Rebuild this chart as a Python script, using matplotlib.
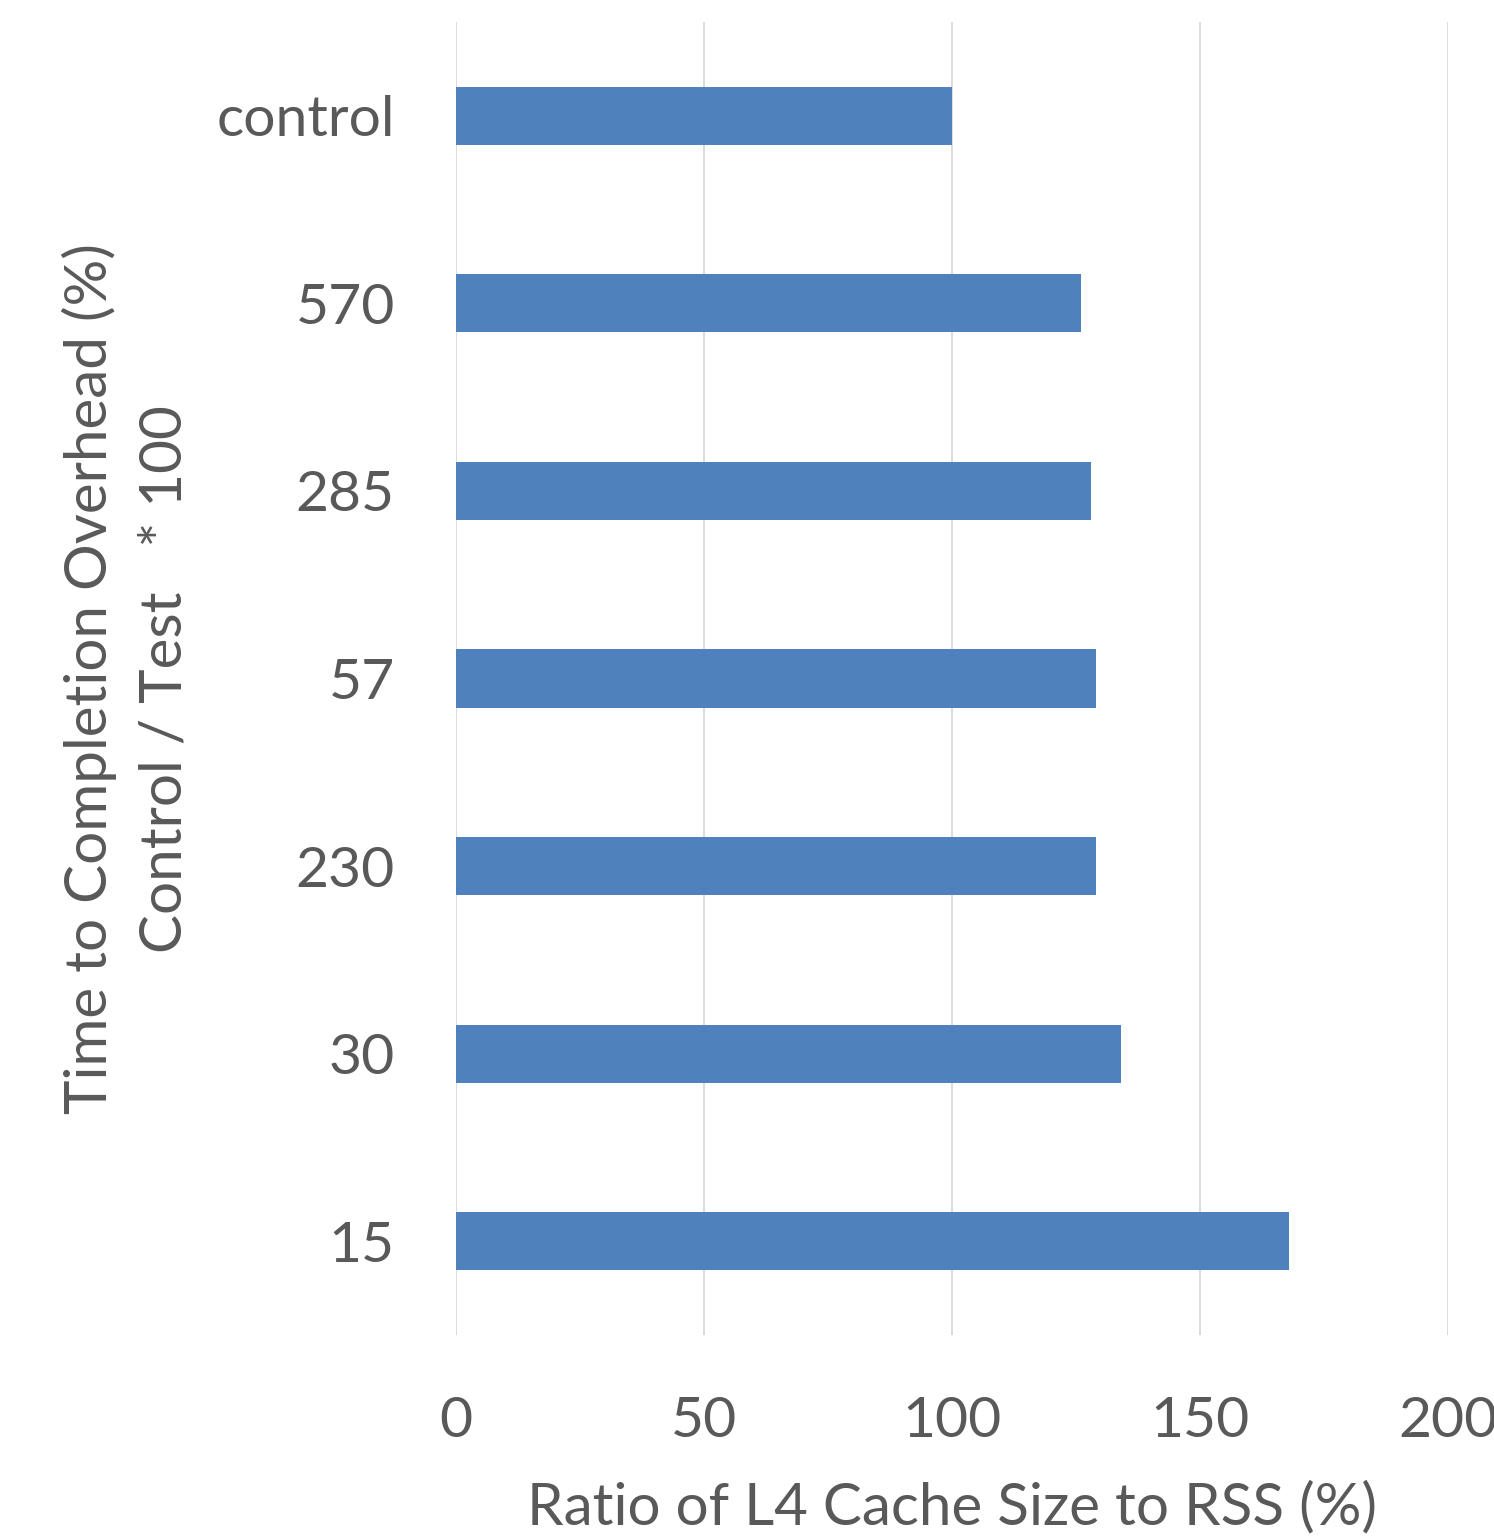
import matplotlib
matplotlib.use('Agg')
import matplotlib.pyplot as plt

# cache-size runs, listed top to bottom
labels = ['control', '570', '285', '57', '230', '30', '15']
overhead = [100, 126, 128, 129, 129, 134, 168]

grey = '#595959'
bar_color = '#4F81BD'

plt.rcParams['font.family'] = ['Lato', 'DejaVu Sans']

fig = plt.figure(figsize=(14.94, 15.37), dpi=100)
ax = fig.add_axes([0.3052, 0.1314, 0.664, 0.8543])

pos = list(range(len(labels)))
ax.barh(pos, overhead, height=0.31, color=bar_color, zorder=3)

ax.set_ylim(len(labels) - 0.5, -0.5)
ax.set_xlim(0, 200)
ax.set_xticks([0, 50, 100, 150, 200])
ax.set_yticks(pos)
ax.set_yticklabels(labels)

ax.grid(axis='x', color='#d9d9d9', linewidth=1.3, zorder=0)
for s in ax.spines.values():
    s.set_visible(False)
ax.tick_params(axis='both', length=0, labelsize=41, colors=grey)
ax.tick_params(axis='y', pad=44)
ax.tick_params(axis='x', pad=44)

ax.set_xlabel('Ratio of L4 Cache Size to RSS (%)', fontsize=42, color=grey, labelpad=24)

fig.text(0.085, 0.5585, 'Time to Completion Overhead (%)\nControl / Test   * 100',
         rotation=90, ha='center', va='center', multialignment='center',
         fontsize=42, color=grey, linespacing=1.5)

fig.savefig('out.png', dpi=100)
